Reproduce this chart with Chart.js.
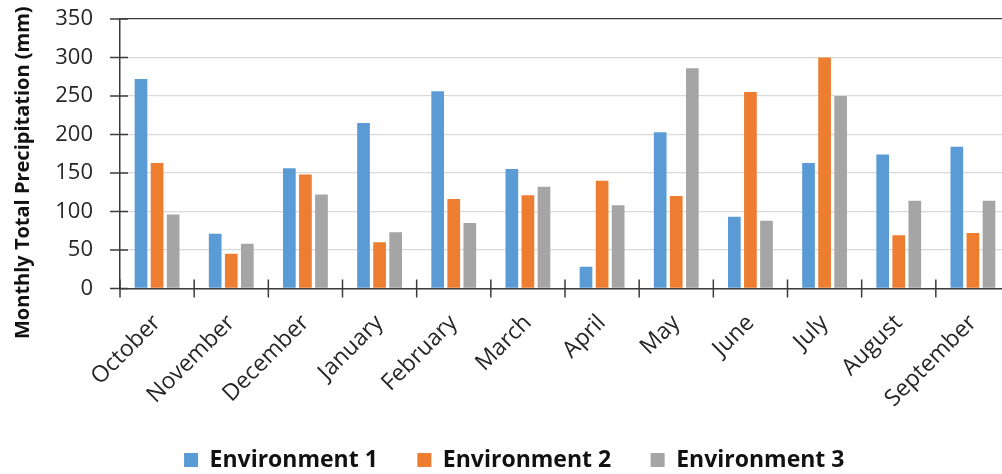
<!DOCTYPE html>
<html>
<head>
<meta charset="utf-8">
<script src="https://cdn.jsdelivr.net/npm/chart.js@4/dist/chart.umd.min.js"></script>
<style>
  html, body { margin: 0; padding: 0; background: #ffffff; overflow: hidden; }
  #wrap { width: 1020px; height: 474px; }
</style>
</head>
<body>
<div id="wrap"><canvas id="chart" width="1020" height="474"></canvas></div>
<script>
// Monthly total precipitation (mm) for three environments, Oct–Sep
const months = ['October', 'November', 'December', 'January', 'February', 'March',
                'April', 'May', 'June', 'July', 'August', 'September'];
const env1 = [272, 71, 156, 215, 256, 155, 28, 203, 93, 163, 174, 184];
const env2 = [163, 45, 148, 60, 116, 121, 140, 120, 255, 300, 69, 72];
const env3 = [96, 58, 122, 73, 85, 132, 108, 286, 88, 250, 114, 114];
const seriesNames = ['Environment 1', 'Environment 2', 'Environment 3'];
const yTitle = 'Monthly Total Precipitation (mm)';

const FONT = "'Open Sans', 'Noto Sans', sans-serif";
const AXIS_COLOR = '#3c3c3c';
const GRID_COLOR = '#d9d9d9';

// Axis tick marks that cross the axis lines, plus the rotated y-axis title
const axisDecor = {
  id: 'axisDecor',
  afterDraw(chart) {
    const { ctx, chartArea, scales } = chart;
    const x = scales.x, y = scales.y;
    ctx.save();
    ctx.strokeStyle = AXIS_COLOR;
    ctx.lineWidth = 1.5;
    ctx.beginPath();
    // y ticks: 10px outside, 8px inside
    y.ticks.forEach(t => {
      const py = y.getPixelForValue(t.value);
      ctx.moveTo(chartArea.left - 10, py);
      ctx.lineTo(chartArea.left + 8, py);
    });
    // x ticks at category boundaries
    for (let i = 0; i <= months.length; i++) {
      const px = x.getPixelForValue(i - 0.5);
      ctx.moveTo(px, chartArea.bottom - 9);
      ctx.lineTo(px, chartArea.bottom + 9);
    }
    ctx.stroke();

    // y-axis title
    ctx.fillStyle = '#111111';
    ctx.font = 'bold 20px ' + FONT;
    ctx.textAlign = 'center';
    ctx.textBaseline = 'middle';
    ctx.translate(chartArea.left - 97, (chartArea.top + chartArea.bottom) / 2 + 19);
    ctx.rotate(-Math.PI / 2);
    ctx.fillText(yTitle, 0, 0);
    ctx.restore();
  }
};

new Chart(document.getElementById('chart'), {
  type: 'bar',
  data: {
    labels: months,
    datasets: [
      { label: seriesNames[0], data: env1, backgroundColor: '#5b9bd5' },
      { label: seriesNames[1], data: env2, backgroundColor: '#ed7d31' },
      { label: seriesNames[2], data: env3, backgroundColor: '#a5a5a5' }
    ]
  },
  options: {
    responsive: false,
    animation: false,
    datasets: { bar: { barPercentage: 0.79, categoryPercentage: 0.65, borderWidth: 0 } },
    layout: { padding: { left: 18.5, right: 10, top: 19, bottom: 0 } },
    plugins: {
      tooltip: { enabled: false },
      legend: {
        position: 'bottom',
        maxHeight: 65,
        labels: {
          boxWidth: 14,
          boxHeight: 14,
          padding: 39.5,
          color: '#111111',
          font: { family: FONT, size: 23, weight: 'bold' }
        }
      }
    },
    scales: {
      x: {
        afterFit(scale) { scale.height = 120.6; },
        grid: { display: false, drawTicks: false },
        border: { display: true, color: AXIS_COLOR, width: 1.5 },
        ticks: {
          autoSkip: false,
          maxRotation: 45,
          minRotation: 45,
          padding: 21,
          color: '#262626',
          font: { family: FONT, size: 23 }
        }
      },
      y: {
        min: 0,
        max: 350,
        afterFit(scale) { scale.width = 101.5; },
        grid: {
          drawTicks: true,
          tickLength: 27,
          tickColor: 'rgba(0,0,0,0)',
          lineWidth: 1.2,
          color: ctx => (ctx.tick && ctx.tick.value === 350) ? AXIS_COLOR : GRID_COLOR
        },
        border: { display: true, color: AXIS_COLOR, width: 1.5 },
        ticks: {
          stepSize: 50,
          padding: 0,
          color: '#262626',
          font: { family: FONT, size: 22 }
        }
      }
    }
  },
  plugins: [axisDecor]
});
</script>
</body>
</html>
